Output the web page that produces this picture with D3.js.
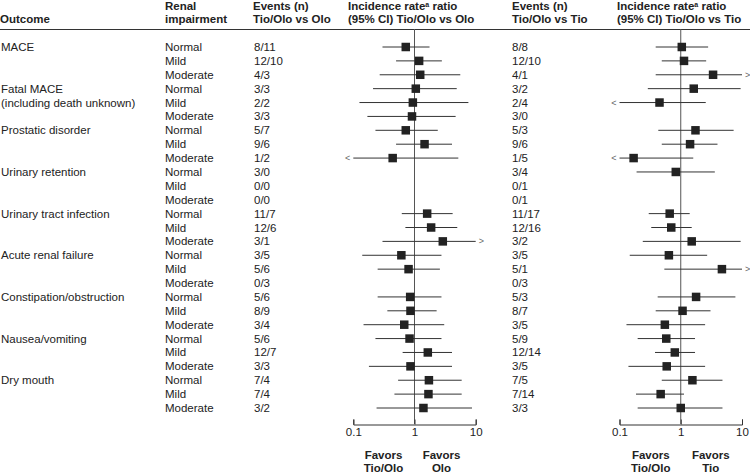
<!DOCTYPE html>
<html><head><meta charset="utf-8">
<script src="https://cdn.jsdelivr.net/npm/d3@7"></script>
<style>
body{margin:0;background:#fff;}
svg text{font-family:"Liberation Sans",Arial,sans-serif;fill:#222;}
</style></head>
<body><svg id="c" width="750" height="474"></svg>
<script>
const outcomes = ["MACE","Fatal MACE","Prostatic disorder","Urinary retention","Urinary tract infection","Acute renal failure","Constipation/obstruction","Nausea/vomiting","Dry mouth"];
const outcomeSub = {"Fatal MACE":"(including death unknown)"};
const levels = ["Normal","Mild","Moderate"];
const eventsVsOlo = ["8/11","12/10","4/3","3/3","2/2","3/3","5/7","9/6","1/2","3/0","0/0","0/0","11/7","12/6","3/1","3/5","5/6","0/3","5/6","8/9","3/4","5/6","12/7","3/3","7/4","7/4","3/2"];
const eventsVsTio = ["8/8","12/10","4/1","3/2","2/4","3/0","5/3","9/6","1/5","3/4","0/1","0/1","11/17","12/16","3/2","3/5","5/1","0/3","5/3","8/7","3/5","5/9","12/14","3/5","7/5","7/14","3/3"];
// Incidence rate ratio Tio/Olo vs Olo: estimate, lower, upper (null = not estimable)
const irrOloEst = [0.72,1.19,1.24,1.05,0.94,0.91,0.72,1.46,0.44,null,null,null,1.61,1.87,2.9,0.61,0.80,null,0.85,0.86,0.68,0.83,1.65,0.86,1.72,1.69,1.40];
const irrOloLo  = [0.30,0.50,0.27,0.21,0.126,0.17,0.23,0.50,0.05,null,null,null,0.62,0.71,0.30,0.14,0.25,null,0.25,0.36,0.147,0.23,0.64,0.18,0.54,0.47,0.24];
const irrOloHi  = [1.76,2.8,5.6,4.9,7.6,4.7,2.4,4.1,5.2,null,null,null,4.2,5.0,20,2.76,2.6,null,2.76,2.3,3.06,2.76,4.1,4.1,5.9,5.9,8.7];
// Incidence rate ratio Tio/Olo vs Tio
const irrTioEst = [1.04,1.13,3.37,1.63,0.45,null,1.74,1.42,0.17,0.83,null,null,0.66,0.70,1.51,0.64,4.7,null,1.78,1.07,0.55,0.58,0.80,0.59,1.55,0.47,1.0];
const irrTioLo  = [0.39,0.49,0.39,0.29,0.05,null,0.43,0.49,0.05,0.19,null,null,0.30,0.33,0.24,0.147,0.54,null,0.42,0.39,0.13,0.198,0.38,0.14,0.49,0.186,0.198];
const irrTioHi  = [2.8,2.6,20,9.5,2.56,null,7.3,3.98,1.6,3.6,null,null,1.40,1.51,9.5,2.7,20,null,7.8,3.06,2.5,1.71,1.71,2.5,4.8,1.13,4.8];
const axisTicks = [0.1,1,10];

const FS = 11.5;
const svg = d3.select("#c");
const nRows = outcomes.length*levels.length;
const y = d3.scaleLinear().domain([0,nRows-1]).range([47,408]);
const xL = d3.scaleLog().domain([0.1,10]).range([353.3,475.7]);
const xR = d3.scaleLog().domain([0.1,10]).range([619.5,742]);

// header
const hdr = svg.append("g").attr("font-weight","bold").attr("font-size",FS);
function htext(x, l1, l2, sup){
  const t1 = hdr.append("text").attr("x",x).attr("y",10);
  if(sup){
    t1.append("tspan").text("Incidence rate");
    t1.append("tspan").attr("font-size",7).attr("dy",-3).text("a");
    t1.append("tspan").attr("dy",3).text(" ratio");
  } else if(l1) t1.text(l1);
  hdr.append("text").attr("x",x).attr("y",23).text(l2);
}
hdr.append("text").attr("x",0).attr("y",23).text("Outcome");
htext(165,"Renal","impairment");
htext(253,"Events (n)","Tio/Olo vs Olo");
htext(348,null,"(95% CI) Tio/Olo vs Olo",true);
htext(512,"Events (n)","Tio/Olo vs Tio");
htext(617,null,"(95% CI) Tio/Olo vs Tio",true);
svg.append("line").attr("x1",0).attr("x2",750).attr("y1",29.5).attr("y2",29.5).attr("stroke","#333").attr("stroke-width",1);

// table text
const tg = svg.append("g").attr("font-size",FS);
outcomes.forEach((o,i)=>{
  tg.append("text").attr("x",1).attr("y",y(i*3)+4).text(o);
  if(outcomeSub[o]) tg.append("text").attr("x",1).attr("y",y(i*3+1)+4).text(outcomeSub[o]);
  levels.forEach((l,j)=>{
    tg.append("text").attr("x",165).attr("y",y(i*3+j)+4).text(l);
  });
});
eventsVsOlo.forEach((e,r)=>tg.append("text").attr("x",254).attr("y",y(r)+4).text(e));
eventsVsTio.forEach((e,r)=>tg.append("text").attr("x",512).attr("y",y(r)+4).text(e));

function forest(x, est, lo, hi, favL, favR, offL, offR){
  const g = svg.append("g");
  g.append("line").attr("x1",x(1)).attr("x2",x(1)).attr("y1",29).attr("y2",424)
    .attr("stroke","#555").attr("stroke-width",1);
  const [d0,d1] = x.domain();
  est.forEach((e,r)=>{
    if(e==null) return;
    const a = Math.max(lo[r],d0), b = Math.min(hi[r],d1);
    g.append("line").attr("x1",x(a)).attr("x2",x(b)).attr("y1",y(r)).attr("y2",y(r))
      .attr("stroke","#333").attr("stroke-width",1);
    if(lo[r]<d0) g.append("text").attr("x",x(d0)-3).attr("y",y(r)+3).attr("text-anchor","end")
      .attr("font-size",9).style("fill","#666").text("<");
    if(hi[r]>d1) g.append("text").attr("x",x(d1)+3).attr("y",y(r)+3)
      .attr("font-size",9).style("fill","#666").text(">");
    const s = 8.5;
    g.append("rect").attr("x",x(e)-s/2).attr("y",y(r)-s/2).attr("width",s).attr("height",s).attr("fill","#222");
  });
  const ax = d3.axisBottom(x).tickValues(axisTicks).tickFormat(d3.format("")).tickSizeInner(-5).tickSizeOuter(-5).tickPadding(3);
  const ag = g.append("g").attr("transform","translate(0,424.5)").call(ax);
  ag.selectAll("text").attr("font-size",FS).attr("font-family","Liberation Sans, Arial, sans-serif").style("fill","#222");
  ag.selectAll("path,line").attr("stroke","#333");
  const fg = g.append("g").attr("font-weight","bold").attr("font-size",FS).attr("text-anchor","middle");
  fg.append("text").attr("x",x(1)+offL).attr("y",459).text("Favors");
  fg.append("text").attr("x",x(1)+offL).attr("y",472).text(favL);
  fg.append("text").attr("x",x(1)+offR).attr("y",459).text("Favors");
  fg.append("text").attr("x",x(1)+offR).attr("y",472).text(favR);
}
forest(xL, irrOloEst, irrOloLo, irrOloHi, "Tio/Olo", "Olo", -31, 27);
forest(xR, irrTioEst, irrTioLo, irrTioHi, "Tio/Olo", "Tio", -30, 30);
</script></body></html>
